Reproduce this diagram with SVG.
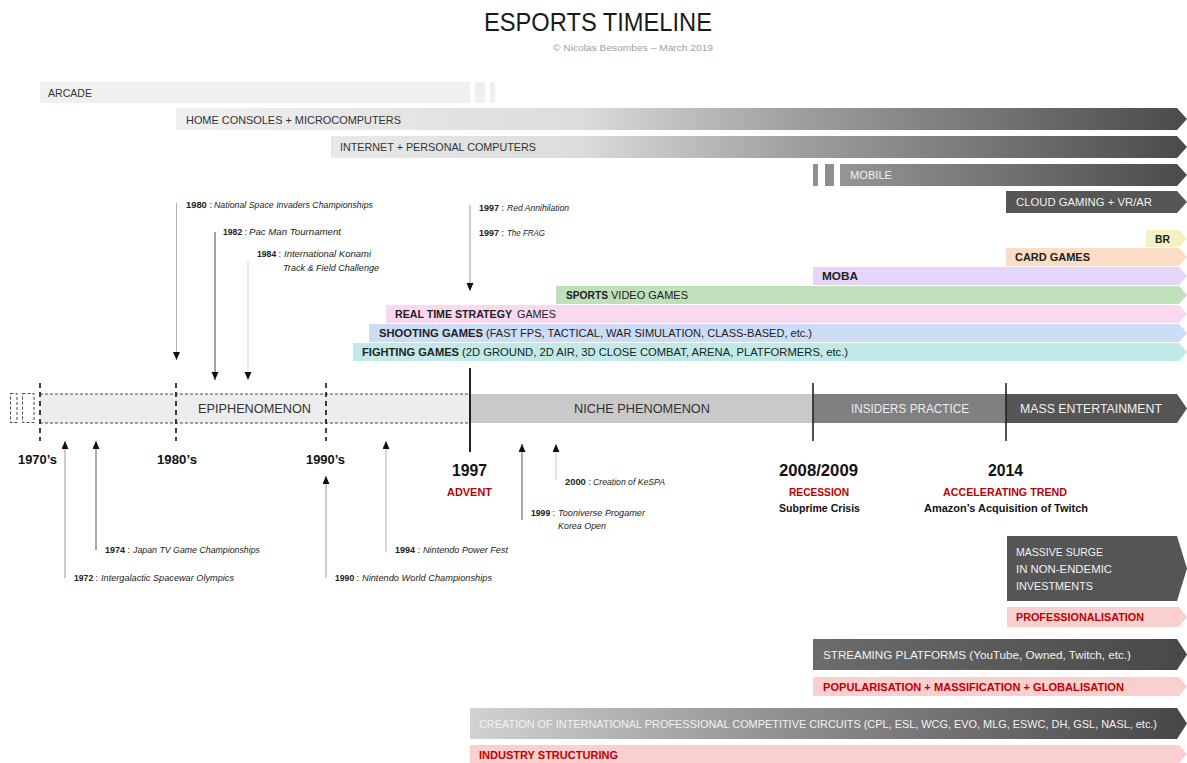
<svg xmlns="http://www.w3.org/2000/svg" width="1187" height="763" viewBox="0 0 1187 763">
<style>
text{font-family:"Liberation Sans",Arial,sans-serif;}
.lb{font-size:11px;fill:#333;}
.lw{font-size:11px;fill:#f2f2f2;}
.gb{font-size:11px;fill:#222;font-weight:bold;}
.gr{font-size:11px;fill:#222;}
.red{font-size:11.5px;fill:#c00000;font-weight:bold;}
.yr{font-size:12.5px;fill:#111;font-weight:bold;}
.big{font-size:16px;fill:#111;font-weight:bold;}
.sub{font-size:11.5px;fill:#111;font-weight:bold;}
.an{font-size:9px;fill:#222;}
.it{font-size:8.5px;fill:#222;font-style:italic;}
.ln{stroke-width:1;fill:none;}
.dash{stroke:#111;stroke-width:1.6;stroke-dasharray:5,4;fill:none;}
.dashb{stroke:#333;stroke-width:0.9;stroke-dasharray:3,2;fill:none;}
.pink{fill:#f9cfcf;}
</style>
<defs>
<linearGradient id="gTop" gradientUnits="userSpaceOnUse" x1="176" y1="0" x2="1187" y2="0">
<stop offset="0" stop-color="#f0f0f0"/>
<stop offset="0.4" stop-color="#dcdcdc"/>
<stop offset="0.6" stop-color="#a2a2a2"/>
<stop offset="1" stop-color="#4a4a4a"/>
</linearGradient>
<linearGradient id="gStream" gradientUnits="userSpaceOnUse" x1="813" y1="0" x2="1187" y2="0">
<stop offset="0" stop-color="#6c6c6c"/>
<stop offset="1" stop-color="#484848"/>
</linearGradient>
<linearGradient id="gCirc" gradientUnits="userSpaceOnUse" x1="470" y1="0" x2="1187" y2="0">
<stop offset="0" stop-color="#d2d2d2"/>
<stop offset="0.45" stop-color="#8e8e8e"/>
<stop offset="1" stop-color="#464646"/>
</linearGradient>
<marker id="ah" markerUnits="userSpaceOnUse" markerWidth="8" markerHeight="8" refX="8" refY="3.5" orient="auto">
<path d="M0,0 L8,3.5 L0,7 z" fill="#111"/>
</marker>
</defs>

<g id="title">
<text x="484" y="31" font-size="26" fill="#1a1a1a" textLength="228" lengthAdjust="spacingAndGlyphs">ESPORTS TIMELINE</text>
<text x="553" y="51" font-size="9.5" fill="#a0a0a0" textLength="160" lengthAdjust="spacingAndGlyphs">© Nicolas Besombes – March 2019</text>
</g>

<g id="arcade">
<rect x="40" y="82" width="430" height="21" fill="#f0f0f0"/>
<rect x="475" y="82" width="10" height="21" fill="#f0f0f0"/>
<rect x="490" y="82" width="5" height="21" fill="#f0f0f0"/>
<text class="lb" x="48" y="96.5" textLength="44" lengthAdjust="spacingAndGlyphs">ARCADE</text>
</g>
<g id="home-consoles">
<path d="M176 108 H1177 L1187 119 L1177 130 H176 Z" fill="url(#gTop)"/>
<text class="lb" x="186" y="123.5" textLength="215" lengthAdjust="spacingAndGlyphs">HOME CONSOLES + MICROCOMPUTERS</text>
</g>
<g id="internet">
<path d="M331 136 H1177 L1187 147 L1177 158 H331 Z" fill="url(#gTop)"/>
<text class="lb" x="340" y="151" textLength="196" lengthAdjust="spacingAndGlyphs">INTERNET + PERSONAL COMPUTERS</text>
</g>
<g id="mobile">
<rect x="813" y="164" width="5" height="22" fill="#8e8e8e"/>
<rect x="825" y="164" width="9" height="22" fill="#8e8e8e"/>
<path d="M840 164 H1177 L1187 175 L1177 186 H840 Z" fill="url(#gTop)"/>
<text class="lw" x="850" y="179" textLength="42" lengthAdjust="spacingAndGlyphs">MOBILE</text>
</g>
<g id="cloud">
<path d="M1006 191 H1177 L1187 202 L1177 213 H1006 Z" fill="#565656"/>
<text class="lw" x="1016" y="206" textLength="136" lengthAdjust="spacingAndGlyphs">CLOUD GAMING + VR/AR</text>
</g>

<g id="br">
<path d="M1146 230 H1179 L1187 238.5 L1179 247 H1146 Z" fill="#f6f1c3"/>
<text class="gb" x="1155" y="242.5" textLength="15" lengthAdjust="spacingAndGlyphs">BR</text>
</g>
<g id="card-games">
<path d="M1006 248 H1179 L1187 257 L1179 266 H1006 Z" fill="#fddcc5"/>
<text class="gb" x="1015" y="261" textLength="75" lengthAdjust="spacingAndGlyphs">CARD GAMES</text>
</g>
<g id="moba">
<path d="M813 267 H1179 L1187 276 L1179 285 H813 Z" fill="#e5d5f8"/>
<text class="gb" x="822" y="280" textLength="36" lengthAdjust="spacingAndGlyphs">MOBA</text>
</g>
<g id="sports">
<path d="M556 286 H1179 L1187 295 L1179 304 H556 Z" fill="#c0e0bc"/>
<text class="gb" x="566" y="299" textLength="42" lengthAdjust="spacingAndGlyphs">SPORTS</text>
<text class="gr" x="611" y="299" textLength="77" lengthAdjust="spacingAndGlyphs">VIDEO GAMES</text>
</g>
<g id="rts">
<path d="M386 305 H1179 L1187 314 L1179 323 H386 Z" fill="#fad8f0"/>
<text class="gb" x="395" y="318" textLength="117" lengthAdjust="spacingAndGlyphs">REAL TIME STRATEGY</text>
<text class="gr" x="517" y="318" textLength="39" lengthAdjust="spacingAndGlyphs">GAMES</text>
</g>
<g id="shooting">
<path d="M369 324 H1179 L1187 333 L1179 342 H369 Z" fill="#cddcf7"/>
<text class="gb" x="379" y="337" textLength="104" lengthAdjust="spacingAndGlyphs">SHOOTING GAMES</text>
<text class="gr" x="486" y="337" textLength="326" lengthAdjust="spacingAndGlyphs">(FAST FPS, TACTICAL, WAR SIMULATION, CLASS-BASED, etc.)</text>
</g>
<g id="fighting">
<path d="M353 343 H1179 L1187 352 L1179 361 H353 Z" fill="#c0eae7"/>
<text class="gb" x="362" y="356" textLength="97" lengthAdjust="spacingAndGlyphs">FIGHTING GAMES</text>
<text class="gr" x="462" y="356" textLength="386" lengthAdjust="spacingAndGlyphs">(2D GROUND, 2D AIR, 3D CLOSE COMBAT, ARENA, PLATFORMERS, etc.)</text>
</g>

<g id="epiphenomenon">
<rect x="10.5" y="393.5" width="6.5" height="29" class="dashb"/>
<rect x="22.5" y="393.5" width="11.5" height="29" class="dashb"/>
<rect x="40" y="394" width="430" height="29" fill="#ededed"/>
<line x1="40" y1="394" x2="470" y2="394" class="dashb"/>
<line x1="40" y1="423" x2="470" y2="423" class="dashb"/>
<line x1="40" y1="383" x2="40" y2="441" class="dash"/>
<line x1="176" y1="383" x2="176" y2="441" class="dash"/>
<line x1="326" y1="383" x2="326" y2="441" class="dash"/>
<text x="198" y="413" font-size="12" fill="#333" textLength="113" lengthAdjust="spacingAndGlyphs">EPIPHENOMENON</text>
<text class="yr" x="18" y="464" textLength="39" lengthAdjust="spacingAndGlyphs">1970’s</text>
<text class="yr" x="157" y="464" textLength="40" lengthAdjust="spacingAndGlyphs">1980’s</text>
<text class="yr" x="306" y="464" textLength="39" lengthAdjust="spacingAndGlyphs">1990’s</text>
</g>
<g id="niche">
<rect x="470" y="394" width="343" height="29" fill="#c9c9c9"/>
<text x="574" y="413" font-size="12" fill="#333" textLength="136" lengthAdjust="spacingAndGlyphs">NICHE PHENOMENON</text>
<line x1="470" y1="368" x2="470" y2="452" stroke="#222" stroke-width="2"/>
<text class="big" x="452" y="476" textLength="35" lengthAdjust="spacingAndGlyphs">1997</text>
<text class="red" x="447" y="496" textLength="45" lengthAdjust="spacingAndGlyphs">ADVENT</text>
</g>
<g id="insiders">
<rect x="813" y="394" width="193" height="29" fill="#808080"/>
<text x="851" y="413" font-size="12" fill="#ececec" textLength="118" lengthAdjust="spacingAndGlyphs">INSIDERS PRACTICE</text>
<line x1="813" y1="383" x2="813" y2="441" stroke="#222" stroke-width="1.6"/>
<text class="big" x="779" y="476" textLength="79" lengthAdjust="spacingAndGlyphs">2008/2009</text>
<text class="red" x="789" y="496" textLength="60" lengthAdjust="spacingAndGlyphs">RECESSION</text>
<text class="sub" x="779" y="512" textLength="81" lengthAdjust="spacingAndGlyphs">Subprime Crisis</text>
</g>
<g id="mass-entertainment">
<path d="M1006 394 H1177 L1187 408.5 L1177 423 H1006 Z" fill="#555"/>
<text x="1020" y="413" font-size="12" fill="#f0f0f0" textLength="142" lengthAdjust="spacingAndGlyphs">MASS ENTERTAINMENT</text>
<line x1="1006" y1="383" x2="1006" y2="441" stroke="#222" stroke-width="1.6"/>
<text class="big" x="988" y="476" textLength="35" lengthAdjust="spacingAndGlyphs">2014</text>
<text class="red" x="943" y="496" textLength="124" lengthAdjust="spacingAndGlyphs">ACCELERATING TREND</text>
<text class="sub" x="924" y="512" textLength="164" lengthAdjust="spacingAndGlyphs">Amazon’s Acquisition of Twitch</text>
</g>

<g id="connectors">
<line x1="176.5" y1="203" x2="176.5" y2="360" stroke="#b0b0b0" class="ln" marker-end="url(#ah)"/>
<line x1="215" y1="232" x2="215" y2="380" stroke="#444" class="ln" marker-end="url(#ah)"/>
<line x1="248" y1="262" x2="248" y2="380" stroke="#d0d0d0" class="ln" marker-end="url(#ah)"/>
<line x1="470" y1="205" x2="470" y2="291" stroke="#999" class="ln" marker-end="url(#ah)"/>
<line x1="65" y1="578" x2="65" y2="441" stroke="#999" class="ln" marker-end="url(#ah)"/>
<line x1="96" y1="550" x2="96" y2="441" stroke="#555" class="ln" marker-end="url(#ah)"/>
<line x1="326" y1="578" x2="326" y2="476" stroke="#999" class="ln" marker-end="url(#ah)"/>
<line x1="386" y1="552" x2="386" y2="441" stroke="#b0b0b0" class="ln" marker-end="url(#ah)"/>
<line x1="522" y1="520" x2="522" y2="444" stroke="#555" class="ln" marker-end="url(#ah)"/>
<line x1="556" y1="480" x2="556" y2="444" stroke="#c0c0c0" class="ln" marker-end="url(#ah)"/>
</g>

<g id="events">
<text class="an" x="186" y="208" textLength="26" lengthAdjust="spacingAndGlyphs"><tspan font-weight="bold">1980</tspan> :</text>
<text class="it" x="214" y="208" textLength="159" lengthAdjust="spacingAndGlyphs">National Space Invaders Championships</text>
<text class="an" x="223" y="235" textLength="24" lengthAdjust="spacingAndGlyphs"><tspan font-weight="bold">1982</tspan> :</text>
<text class="it" x="249" y="235" textLength="92" lengthAdjust="spacingAndGlyphs">Pac Man Tournament</text>
<text class="an" x="257" y="257" textLength="24" lengthAdjust="spacingAndGlyphs"><tspan font-weight="bold">1984</tspan> :</text>
<text class="it" x="284" y="257" textLength="87" lengthAdjust="spacingAndGlyphs">International Konami</text>
<text class="it" x="283" y="271" textLength="96" lengthAdjust="spacingAndGlyphs">Track &amp; Field Challenge</text>
<text class="an" x="479" y="211" textLength="25" lengthAdjust="spacingAndGlyphs"><tspan font-weight="bold">1997</tspan> :</text>
<text class="it" x="507" y="211" textLength="62" lengthAdjust="spacingAndGlyphs">Red Annihilation</text>
<text class="an" x="479" y="236" textLength="25" lengthAdjust="spacingAndGlyphs"><tspan font-weight="bold">1997</tspan> :</text>
<text class="it" x="507" y="236" textLength="38" lengthAdjust="spacingAndGlyphs">The FRAG</text>
<text class="an" x="74" y="581" textLength="24" lengthAdjust="spacingAndGlyphs"><tspan font-weight="bold">1972</tspan> :</text>
<text class="it" x="101" y="581" textLength="133" lengthAdjust="spacingAndGlyphs">Intergalactic Spacewar Olympics</text>
<text class="an" x="105" y="553" textLength="25" lengthAdjust="spacingAndGlyphs"><tspan font-weight="bold">1974</tspan> :</text>
<text class="it" x="133" y="553" textLength="127" lengthAdjust="spacingAndGlyphs">Japan TV Game Championships</text>
<text class="an" x="335" y="581" textLength="24" lengthAdjust="spacingAndGlyphs"><tspan font-weight="bold">1990</tspan> :</text>
<text class="it" x="362" y="581" textLength="130" lengthAdjust="spacingAndGlyphs">Nintendo World Championships</text>
<text class="an" x="395" y="553" textLength="25" lengthAdjust="spacingAndGlyphs"><tspan font-weight="bold">1994</tspan> :</text>
<text class="it" x="423" y="553" textLength="85" lengthAdjust="spacingAndGlyphs">Nintendo Power Fest</text>
<text class="an" x="531" y="516" textLength="24" lengthAdjust="spacingAndGlyphs"><tspan font-weight="bold">1999</tspan> :</text>
<text class="it" x="558" y="516" textLength="87" lengthAdjust="spacingAndGlyphs">Tooniverse Progamer</text>
<text class="it" x="558" y="529" textLength="48" lengthAdjust="spacingAndGlyphs">Korea Open</text>
<text class="an" x="565" y="485" textLength="26" lengthAdjust="spacingAndGlyphs"><tspan font-weight="bold">2000</tspan> :</text>
<text class="it" x="593" y="485" textLength="72" lengthAdjust="spacingAndGlyphs">Creation of KeSPA</text>
</g>

<g id="investments">
<path d="M1007 536 H1177 L1187 568.5 L1177 601 H1007 Z" fill="#555"/>
<text class="lw" x="1016" y="556" textLength="87" lengthAdjust="spacingAndGlyphs">MASSIVE SURGE</text>
<text class="lw" x="1016" y="573" textLength="96" lengthAdjust="spacingAndGlyphs">IN NON-ENDEMIC</text>
<text class="lw" x="1016" y="590" textLength="77" lengthAdjust="spacingAndGlyphs">INVESTMENTS</text>
</g>
<g id="professionalisation">
<path d="M1007 607 H1179 L1187 617 L1179 627 H1007 Z" class="pink"/>
<text class="red" x="1016" y="621" textLength="128" lengthAdjust="spacingAndGlyphs">PROFESSIONALISATION</text>
</g>
<g id="streaming">
<path d="M813 639 H1177 L1187 654.5 L1177 670 H813 Z" fill="url(#gStream)"/>
<text class="lw" x="823" y="659" textLength="308" lengthAdjust="spacingAndGlyphs">STREAMING PLATFORMS (YouTube, Owned, Twitch, etc.)</text>
</g>
<g id="popularisation">
<path d="M813 677 H1179 L1187 686.5 L1179 696 H813 Z" class="pink"/>
<text class="red" x="823" y="690.5" textLength="301" lengthAdjust="spacingAndGlyphs">POPULARISATION + MASSIFICATION + GLOBALISATION</text>
</g>
<g id="circuits">
<path d="M470 708 H1177 L1187 723.5 L1177 739 H470 Z" fill="url(#gCirc)"/>
<text class="lw" x="479" y="728" textLength="678" lengthAdjust="spacingAndGlyphs">CREATION OF INTERNATIONAL PROFESSIONAL COMPETITIVE CIRCUITS (CPL, ESL, WCG, EVO, MLG, ESWC, DH, GSL, NASL, etc.)</text>
</g>
<g id="industry">
<path d="M470 745 H1179 L1187 754 L1179 763 H470 Z" class="pink"/>
<text class="red" x="479" y="759" textLength="139" lengthAdjust="spacingAndGlyphs">INDUSTRY STRUCTURING</text>
</g>
</svg>
